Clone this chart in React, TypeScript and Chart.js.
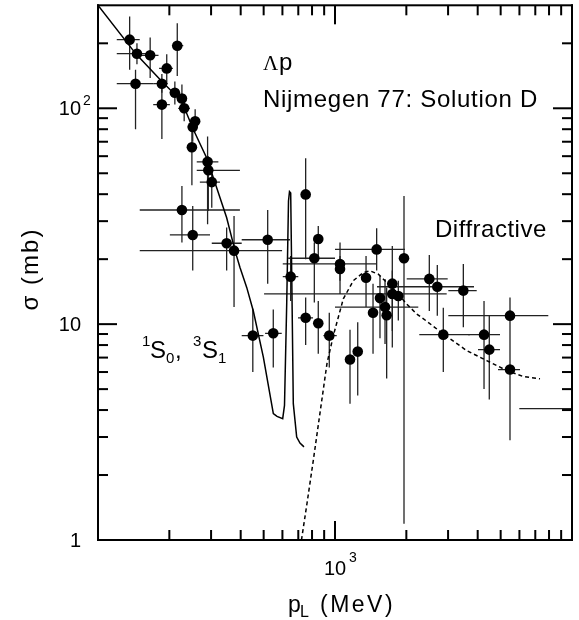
import React, { useEffect, useRef } from 'react';
import { Chart, registerables } from 'chart.js';

Chart.register(...registerables);

// ---- measured cross sections (Λp) ----
const momentum = [136, 146, 166, 144, 216, 195, 186, 186, 211, 226, 231, 257, 251, 249, 290, 292, 302, 226, 251, 349, 375, 520,
  450, 549, 650, 752, 850, 818, 752, 850, 946, 1050, 1050, 1499, 1745, 1850, 1352, 1447, 1548, 1626, 1652, 1745, 1955, 1157, 1247,
  2500, 2702, 3479, 2864, 4254, 4477, 5475, 5475, 12000];
const sigma = [208, 179, 176, 130, 195, 153, 130, 104, 118, 111, 100, 87, 82, 66, 56.5, 51.6, 45.5, 33.8, 25.9, 23.7, 21.9, 24.6,
  8.85, 9.07, 16.6, 39.9, 24.8, 20.2, 10.7, 10.1, 8.85, 19.0, 18.0, 22.2, 13.8, 13.5, 16.4, 11.3, 13.2, 12.0, 11.0, 15.4, 20.2, 6.86, 7.46,
  16.2, 14.9, 14.3, 8.94, 8.94, 7.62, 10.95, 6.16, 4.06];
const momentumLow = [120, 120, 150, 120, 205, 181, 171, 171, 201, 215, 218, 244, 239, 241, 261, 261, 269, 150, 201, 302, 150, 404,
  404, 507, 602, 731, 826, 635, 698, 818, 893, 602, 1010, 1000, 502, 1762, 1300, 1391, 1489, 1000, 1590, 1661, 1880, 1113, 1199,
  2007, 1504, 3007, 2268, 3640, 4012, 3007, 4874, 5993];
const momentumHigh = [150, 160, 180, 171, 229, 207, 197, 201, 222, 237, 244, 269, 264, 258, 322, 397, 327, 397, 297, 404, 598, 646,
  499, 596, 700, 775, 876, 1000, 808, 884, 1017, 1499, 1091, 1974, 2960, 1942, 1405, 1504, 1610, 2246, 1718, 1832, 2032, 1203, 1296,
  2989, 3860, 3962, 3712, 4969, 4969, 7943, 6034, 20000];
const sigmaLow = [151, 160, 138, 80, 141, 129, 118, 72, 104, 97, 87, 78, 70, 44, 29, 33.4, 34.6, 23.9, 17.7, 17.7, 12.0, 15.4,
  6.0, 6.3, 12.8, 20.0, 20.0, 12.6, 8.0, 7.3, 6.3, 15.9, 13.8, 17.7, 9.3, 10.4, 12.0, 7.3, 8.6, 8.1, 5.6, 7.8, 1.19, 4.28, 4.67,
  11.5, 10.95, 9.67, 6.0, 5.0, 4.48, 8.0, 2.9, 4.06];
const sigmaHigh = [266, 200, 213, 151, 248, 178, 144, 124, 133, 129, 116, 99, 90, 78, 74, 60, 53, 43.6, 35.3, 28, 31.7, 33.8,
  11.8, 11.7, 20.7, 58.7, 28.5, 23.9, 13.3, 12.8, 11.3, 23.9, 20.7, 27.8, 17.7, 15.9, 20.7, 15.4, 16.75, 16.2, 14.8, 23.0, 39.2, 9.43, 10.2,
  20.9, 18.8, 19.0, 11.9, 12.8, 10.95, 13.3, 8.0, 4.06];

// ---- Nijmegen 77 solution D (1S0, 3S1) ----
const modelMomentum = [100, 144.7, 185.7, 225.5, 252.5, 287.5, 316.8, 349.1, 378.5, 397.3, 424.1, 452.2, 498.5, 549.3, 569.3,
  601.6, 612.2, 625.5, 636.5, 642.7, 650.2, 656.5, 666.9, 689.2, 711.6, 739.9];
const modelSigma = [300, 178.2, 133.3, 107.7, 79.7, 58.9, 42.8, 31.1, 21.9, 18.3, 14.8, 11.5, 7.03, 3.85, 3.74,
  3.65, 4.2, 12.4, 37.2, 41.1, 40.5, 17.7, 4.28, 3.0, 2.81, 2.7];

// ---- diffractive contribution ----
const diffMomentum = [722, 762, 810, 877, 925, 984, 1084, 1195, 1317, 1405, 1523, 1652, 1821, 2007, 2212, 2437, 2864, 3595, 4367, 5303, 6230, 7328];
const diffSigma = [1, 1.48, 2.34, 4.34, 6.57, 8.85, 13.1, 15.9, 17.35, 17.66, 17.05, 15.6, 14.03, 12.4, 11.15, 10.32, 9.01, 7.54, 6.78, 6.1, 5.72, 5.58];

// ---- axes ----
const xRange = [100, 10000];
const yRange = [1, 300];
const xTickValues = [200, 300, 400, 500, 600, 700, 800, 900, 1000, 2000, 3000, 4000, 5000, 6000, 7000, 8000, 9000];
const yTickValues = [2, 3, 4, 5, 6, 7, 8, 9, 10, 20, 30, 40, 50, 60, 70, 80, 90, 100, 200];
const majorTickValues = [10, 100, 1000];
const xTickLabels = [{ value: 1000, base: '10', exp: '3' }];
const yTickLabels = [
  { value: 1, base: '1', exp: '' },
  { value: 10, base: '10', exp: '' },
  { value: 100, base: '10', exp: '2' },
];

const FONT = '"Liberation Sans", Arial, Helvetica, sans-serif';
const SERIF = '"Liberation Serif", "Times New Roman", serif';

const errorBarPlugin = {
  id: 'errorBars',
  beforeDatasetsDraw(chart: any) {
    const { ctx, chartArea } = chart;
    const xs = chart.scales.x;
    const ys = chart.scales.y;
    ctx.save();
    ctx.beginPath();
    ctx.rect(chartArea.left, chartArea.top, chartArea.right - chartArea.left, chartArea.bottom - chartArea.top);
    ctx.clip();
    ctx.strokeStyle = '#222';
    ctx.lineWidth = 1.3;
    for (let i = 0; i < momentum.length; i++) {
      const px = xs.getPixelForValue(momentum[i]);
      const py = ys.getPixelForValue(sigma[i]);
      ctx.beginPath();
      ctx.moveTo(xs.getPixelForValue(momentumLow[i]), py);
      ctx.lineTo(xs.getPixelForValue(momentumHigh[i]), py);
      ctx.moveTo(px, ys.getPixelForValue(sigmaLow[i]));
      ctx.lineTo(px, ys.getPixelForValue(sigmaHigh[i]));
      ctx.stroke();
    }
    ctx.restore();
  },
};

const textPlugin = {
  id: 'texts',
  afterDraw(chart: any) {
    const ctx = chart.ctx;
    const area = chart.chartArea;
    const bottom = area.bottom;
    const xs = chart.scales.x;
    const ys = chart.scales.y;
    ctx.save();
    ctx.fillStyle = '#000000';

    for (const t of yTickLabels) {
      const p = ys.getPixelForValue(t.value);
      ctx.font = `20px ${FONT}`;
      ctx.textAlign = 'right';
      ctx.textBaseline = 'middle';
      ctx.fillText(t.base, 81, p + 1);
      if (t.exp) {
        ctx.font = `14px ${FONT}`;
        ctx.textAlign = 'left';
        ctx.textBaseline = 'alphabetic';
        ctx.fillText(t.exp, 83, p - 3);
      }
    }
    for (const t of xTickLabels) {
      const p = xs.getPixelForValue(t.value);
      ctx.font = `20px ${FONT}`;
      ctx.textAlign = 'center';
      ctx.textBaseline = 'middle';
      ctx.fillText(t.base, p, bottom + 29);
      if (t.exp) {
        ctx.font = `14px ${FONT}`;
        ctx.textAlign = 'left';
        ctx.textBaseline = 'alphabetic';
        ctx.fillText(t.exp, p + 14, bottom + 22);
      }
    }

    ctx.textAlign = 'left';
    ctx.textBaseline = 'alphabetic';
    ctx.font = `23px ${FONT}`;
    ctx.fillText('p', 288, 612);
    ctx.font = `16px ${FONT}`;
    ctx.fillText('L', 300, 617);
    ctx.font = `23px ${FONT}`;
    (ctx as any).letterSpacing = '2.5px';
    ctx.fillText('(MeV)', 320, 612);
    (ctx as any).letterSpacing = '0px';

    ctx.save();
    ctx.translate(31, 269);
    ctx.rotate(-Math.PI / 2);
    ctx.textAlign = 'center';
    ctx.textBaseline = 'middle';
    ctx.font = `24px ${FONT}`;
    (ctx as any).letterSpacing = '2px';
    ctx.fillText('σ (mb)', 0, 0);
    (ctx as any).letterSpacing = '0px';
    ctx.restore();

    ctx.textAlign = 'left';
    ctx.textBaseline = 'alphabetic';
    ctx.font = `21px ${SERIF}`;
    ctx.fillText('Λ', 263, 70);
    ctx.font = `24px ${FONT}`;
    ctx.fillText('p', 279, 70);
    (ctx as any).letterSpacing = '0.7px';
    ctx.fillText('Nijmegen 77: Solution D', 263, 107);
    (ctx as any).letterSpacing = '0.5px';
    ctx.fillText('Diffractive', 435, 236.5);
    (ctx as any).letterSpacing = '0px';

    ctx.font = `15px ${FONT}`;
    ctx.fillText('1', 142, 346);
    ctx.fillText('0', 166, 363);
    ctx.fillText('3', 193, 346);
    ctx.fillText('1', 218, 363);
    ctx.font = `24px ${FONT}`;
    ctx.fillText('S', 150, 358);
    ctx.fillText(',', 175, 358);
    ctx.fillText('S', 202, 358);
    ctx.restore();
  },
};

const axisTickPlugin = {
  id: 'axisTicks',
  afterDraw(chart: any) {
    const ctx = chart.ctx;
    const area = chart.chartArea;
    const xs = chart.scales.x;
    const ys = chart.scales.y;
    ctx.save();
    ctx.fillStyle = '#000000';
    const MAJ = 19;
    const MIN = 10;
    const W = 2;
    for (let i = 0; i < xTickValues.length; i++) {
      const v = xTickValues[i];
      const p = xs.getPixelForValue(v);
      const len = majorTickValues.indexOf(v) >= 0 ? MAJ : MIN;
      ctx.fillRect(p - W / 2, area.bottom - len, W, len);
      ctx.fillRect(p - W / 2, area.top, W, len);
    }
    for (let i = 0; i < yTickValues.length; i++) {
      const v = yTickValues[i];
      const p = ys.getPixelForValue(v);
      const len = majorTickValues.indexOf(v) >= 0 ? MAJ : MIN;
      ctx.fillRect(area.left, p - W / 2, len, W);
      ctx.fillRect(area.right - len, p - W / 2, len, W);
    }
    ctx.fillRect(area.left - 1, area.top - 1, area.right - area.left + 2, 2);
    ctx.fillRect(area.left - 1, area.bottom - 1, area.right - area.left + 2, 2);
    ctx.fillRect(area.left - 1, area.top - 1, 2, area.bottom - area.top + 2);
    ctx.fillRect(area.right - 1, area.top - 1, 2, area.bottom - area.top + 2);
    ctx.restore();
  },
};

export default function App() {
  const canvasRef = useRef<HTMLCanvasElement | null>(null);

  useEffect(() => {
    if (!canvasRef.current) return;
    const chart = new Chart(canvasRef.current, {
      type: 'scatter',
      data: {
        datasets: [
          {
            label: 'Λp data',
            data: momentum.map((x, i) => ({ x, y: sigma[i] })),
            pointRadius: 5.3,
            pointBackgroundColor: '#000',
            pointBorderWidth: 0,
            showLine: false,
          },
          {
            label: 'Nijmegen 77: Solution D',
            data: modelMomentum.map((x, i) => ({ x, y: modelSigma[i] })),
            showLine: true,
            borderColor: '#000',
            borderWidth: 1.5,
            pointRadius: 0,
            tension: 0,
          },
          {
            label: 'Diffractive',
            data: diffMomentum.map((x, i) => ({ x, y: diffSigma[i] })),
            showLine: true,
            borderColor: '#000',
            borderWidth: 1.5,
            borderDash: [4, 3],
            pointRadius: 0,
            tension: 0,
          },
        ],
      },
      options: {
        animation: false,
        responsive: false,
        layout: { padding: { top: 2, right: 7, left: 0, bottom: 0 } },
        plugins: { legend: { display: false }, tooltip: { enabled: false } },
        scales: {
          x: {
            type: 'logarithmic',
            min: xRange[0],
            max: xRange[1],
            grid: { display: false },
            border: { display: false },
            ticks: { display: false },
            afterFit: (s: any) => { s.height = 80; },
          },
          y: {
            type: 'logarithmic',
            min: yRange[0],
            max: yRange[1],
            grid: { display: false },
            border: { display: false },
            ticks: { display: false },
            afterFit: (s: any) => { s.width = 98; },
          },
        },
      },
      plugins: [errorBarPlugin, textPlugin, axisTickPlugin],
    } as any);
    return () => chart.destroy();
  }, []);

  return (
    <div style={{ position: 'absolute', left: 0, top: 0, width: 579, height: 620, background: '#fff' }}>
      <canvas ref={canvasRef} width={579} height={620} style={{ display: 'block' }} />
    </div>
  );
}
